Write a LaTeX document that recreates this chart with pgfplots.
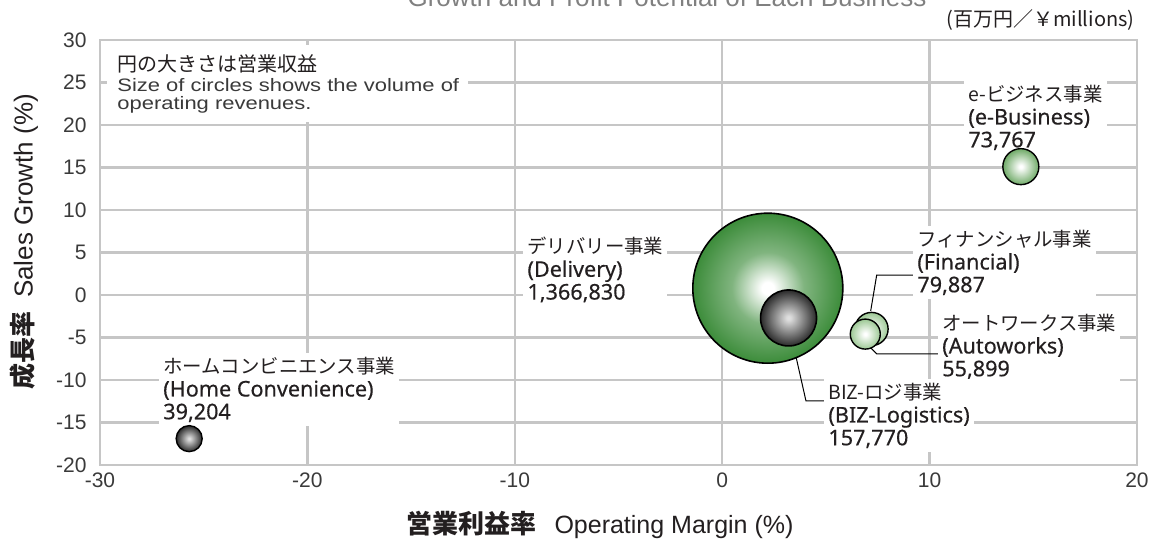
\documentclass[border=0pt]{standalone}
\usepackage{fontspec}
\usepackage{pgfplots}
\pgfplotsset{compat=1.18}
\setmainfont{Liberation Sans}
\newfontfamily\cjk{Noto Sans CJK JP}
\newfontfamily\lat[FakeBold=0.4]{Noto Sans}
\newfontfamily\notefont[FakeStretch=1.22]{Liberation Sans}

\definecolor{gridgray}{HTML}{C6C6C6}
\definecolor{txt}{HTML}{231F20}
\definecolor{ticktxt}{HTML}{3A3A3A}
\definecolor{dgreen}{HTML}{3C8C3A}
\definecolor{lgreen}{HTML}{9CC894}
\definecolor{egreen}{HTML}{6FAA67}
\definecolor{dgrey}{HTML}{2A2A2A}

\pgfdeclareradialshading{shDel}{\pgfpoint{0bp}{0bp}}{color(0bp)=(white); color(2bp)=(white); color(12bp)=(dgreen!65!white); color(25bp)=(dgreen); color(50bp)=(dgreen)}
\pgfdeclareradialshading{shLight}{\pgfpoint{0bp}{0bp}}{color(0bp)=(white); color(2bp)=(white); color(25bp)=(lgreen); color(50bp)=(lgreen)}
\pgfdeclareradialshading{shE}{\pgfpoint{0bp}{0bp}}{color(0bp)=(white); color(2bp)=(white); color(25bp)=(egreen); color(50bp)=(egreen)}
\pgfdeclareradialshading{shGrey}{\pgfpoint{0bp}{0bp}}{color(0bp)=(black!12); color(2bp)=(black!14); color(25bp)=(dgrey); color(50bp)=(dgrey)}

\pgfdeclareplotmark{ballDel}{\pgfpathcircle{\pgfpointorigin}{\pgfplotmarksize}\pgfshadepath{shDel}{0}\pgfusepathqstroke}
\pgfdeclareplotmark{ballLight}{\pgfpathcircle{\pgfpointorigin}{\pgfplotmarksize}\pgfshadepath{shLight}{0}\pgfusepathqstroke}
\pgfdeclareplotmark{ballE}{\pgfpathcircle{\pgfpointorigin}{\pgfplotmarksize}\pgfshadepath{shE}{0}\pgfusepathqstroke}
\pgfdeclareplotmark{ballGrey}{\pgfpathcircle{\pgfpointorigin}{\pgfplotmarksize}\pgfshadepath{shGrey}{0}\pgfusepathqstroke}

\tikzset{
  lab/.style={anchor=north west, align=left, fill=white, inner sep=2pt, text=txt,
    font=\cjk\fontsize{9.7}{11.4}\selectfont},
  lead/.style={draw=black, line width=0.5pt},
}
\newcommand{\lt}[1]{{\lat\fontsize{10.8}{11.4}\selectfont #1}}

\begin{document}
\begin{tikzpicture}
\begin{axis}[
  at={(0,0)}, anchor=south west,
  scale only axis, width=518.5pt, height=212.5pt,
  xmin=-30, xmax=20, ymin=-20, ymax=30,
  xtick={-30,-20,-10,0,10,20}, xticklabels={-30,-20,-10,0,10,20},
  ytick={-20,-15,-10,-5,0,5,10,15,20,25,30},
  yticklabels={-20,-15,-10,-5,0,5,10,15,20,25,30},
  grid=major, major grid style={draw=gridgray, line width=1.2pt},
  axis line style={draw=gridgray, line width=1.2pt},
  tick style={draw=none},
  ticklabel style={font=\fontsize{10.5}{12}\selectfont, text=ticktxt, inner sep=0pt},
  yticklabel shift=6.5pt, xticklabel shift=3.5pt,
  clip=false,
]
% bubbles: (operating margin, sales growth), radius ~ sqrt(operating revenues)
\addplot[only marks, mark=ballDel, mark size=37.5pt, mark options={draw=black, line width=0.8pt}] coordinates {(2.2,0.8)};
\addplot[only marks, mark=ballGrey, mark size=14pt, mark options={draw=black, line width=0.8pt}] coordinates {(3.2,-2.7)};
\addplot[only marks, mark=ballLight, mark size=8.3pt, mark options={draw=black, line width=0.7pt}] coordinates {(7.2,-4.0)};
\addplot[only marks, mark=ballLight, mark size=7.5pt, mark options={draw=black, line width=0.7pt}] coordinates {(6.9,-4.6)};
\addplot[only marks, mark=ballE, mark size=9pt, mark options={draw=black, line width=0.7pt}] coordinates {(14.4,15.1)};
\addplot[only marks, mark=ballGrey, mark size=6.5pt, mark options={draw=black, line width=0.7pt}] coordinates {(-25.7,-16.9)};

% leader lines
\draw[lead] (axis cs:3.41,-5.65) -- (axis cs:4.04,-12.47) -- (axis cs:4.95,-12.47);
\draw[lead] (axis cs:7.16,-1.88) -- (axis cs:7.45,2.35) -- (axis cs:9.25,2.35);
\draw[lead] (axis cs:7.17,-6.24) -- (axis cs:7.46,-6.94) -- (axis cs:10.45,-6.94);

% size note
\fill[white] (axis cs:-29.66,29.41) rectangle (axis cs:-12.26,20.35);
\node[anchor=base west, inner sep=0pt, text=txt, font=\cjk\fontsize{10}{12}\selectfont] at (axis cs:-29.18,26.35) {円の大きさは営業収益};
\node[anchor=base west, inner sep=0pt, text=ticktxt, font=\notefont\fontsize{9}{10}\selectfont] at (axis cs:-29.18,24.0) {Size of circles shows the volume of};
\node[anchor=base west, inner sep=0pt, text=ticktxt, font=\notefont\fontsize{9}{10}\selectfont] at (axis cs:-29.18,21.88) {operating revenues.};

% labels
\node[lab] at (axis cs:-9.60,7.29) {デリバリー事業\\\lt{(Delivery)}\\\lt{1,366,830}};
\node[lab] at (axis cs:11.66,25.18) {e-ビジネス事業\\\lt{(e-Business)}\\\lt{73,767}};
\node[lab] at (axis cs:-27.16,-6.82) {ホームコンビニエンス事業\\\lt{(Home Convenience)}\\\lt{39,204}};
\node[lab] at (axis cs:9.20,8.12) {フィナンシャル事業\\\lt{(Financial)}\\\lt{79,887}};
\node[lab] at (axis cs:10.40,-1.76) {オートワークス事業\\\lt{(Autoworks)}\\\lt{55,899}};
\node[lab] at (axis cs:4.91,-9.88) {BIZ-ロジ事業\\\lt{(BIZ-Logistics)}\\\lt{157,770}};
\end{axis}

\node[anchor=base, inner sep=0pt, text=black!50, font=\fontsize{13}{15}\selectfont] at (283.5pt,229pt) {Growth and Profit Potential of Each Business};
\node[anchor=east, inner sep=0pt, text=txt, font=\cjk\fontsize{10}{12}\selectfont] at (517.5pt,222.5pt) {(百万円／￥millions)};
\node[rotate=90, inner sep=0pt, text=txt] at (-38pt,111.5pt) {{\cjk\bfseries\fontsize{13}{15}\selectfont 成長率}\hspace{7pt}{\fontsize{13}{15}\selectfont Sales Growth (\%)}};
\node[inner sep=0pt, text=txt] at (250pt,-30pt) {{\cjk\bfseries\fontsize{13}{15}\selectfont 営業利益率}\hspace{9pt}{\fontsize{12.5}{15}\selectfont Operating Margin (\%)}};

\pgfresetboundingbox
\useasboundingbox (-50pt,-40pt) rectangle (526pt,232.5pt);
\end{tikzpicture}
\end{document}
